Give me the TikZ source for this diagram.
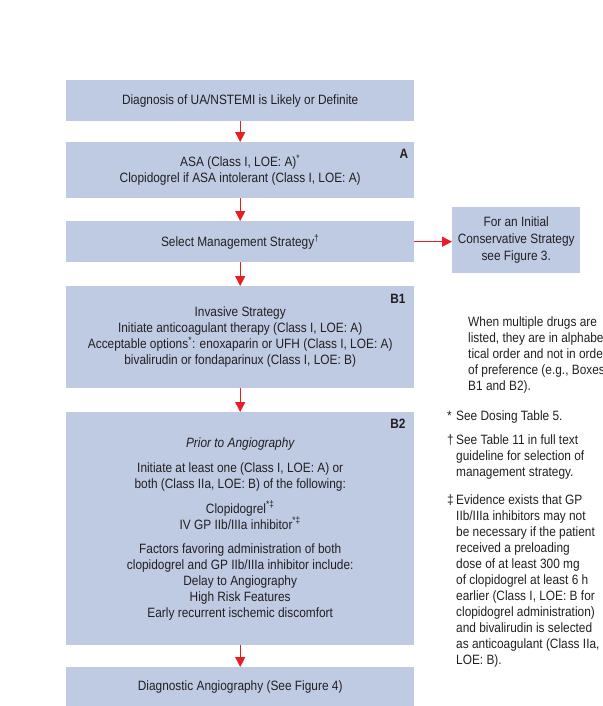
\documentclass[tikz,border=0pt]{standalone}
\usepackage{fontspec}
\setmainfont{Liberation Sans}[FakeStretch=0.88]
\usetikzlibrary{arrows.meta}
\definecolor{boxfill}{RGB}{191,203,227}
\definecolor{arrowred}{RGB}{236,28,36}
\definecolor{ink}{RGB}{35,31,32}

\begin{document}
\begin{tikzpicture}[x=1pt,y=-1pt,
  box/.style={fill=boxfill, draw=none, minimum width=348pt, anchor=north west,
    inner sep=0pt, align=center, text=ink, font=\fontsize{13.5}{16}\selectfont},
  flow/.style={draw=arrowred, line width=0.9pt,
    -{Triangle[length=10pt,width=10pt,fill=arrowred]}},
  tag/.style={text=ink, font=\fontsize{13.5}{16}\selectfont\bfseries, inner sep=0pt},
  note/.style={text=ink, anchor=base west, align=left, inner sep=0pt,
    font=\fontsize{13.5}{16}\selectfont}
]
\useasboundingbox (0,0) rectangle (602,706);

% flow boxes
\node[box, minimum height=41pt] (diag) at (66,80)
  {Diagnosis of UA/NSTEMI is Likely or Definite};
\node[box, minimum height=56pt] (asa) at (66,142)
  {ASA (Class I, LOE: A)\textsuperscript{*}\\
   Clopidogrel if ASA intolerant (Class I, LOE: A)};
\node[box, minimum height=41pt] (select) at (66,221)
  {Select Management Strategy\textsuperscript{†}};
\node[box, minimum width=128pt, minimum height=66pt,
      font=\fontsize{13.5}{17}\selectfont] (cons) at (452,207)
  {For an Initial\\Conservative Strategy\\see Figure 3.};
\node[box, minimum height=102pt] (b1) at (66,286)
  {Invasive Strategy\\
   Initiate anticoagulant therapy (Class I, LOE: A)\\
   Acceptable options\textsuperscript{*}: enoxaparin or UFH (Class I, LOE: A)\\
   bivalirudin or fondaparinux (Class I, LOE: B)};
\node[box, minimum height=233pt] (b2) at (66,412)
  {\itshape Prior to Angiography\\[9pt]
   Initiate at least one (Class I, LOE: A) or\\
   both (Class IIa, LOE: B) of the following:\\[9pt]
   Clopidogrel\textsuperscript{*‡}\\
   IV GP IIb/IIIa inhibitor\textsuperscript{*‡}\\[8pt]
   Factors favoring administration of both\\
   clopidogrel and GP IIb/IIIa inhibitor include:\\
   Delay to Angiography\\
   High Risk Features\\
   Early recurrent ischemic discomfort};
\node[box, minimum height=39pt] (angio) at (66,667)
  {Diagnostic Angiography (See Figure 4)};

% box tags
\node[tag] (tagA) at (404,154) {A};
\node[tag] (tagB1) at (398,299) {B1};
\node[tag] (tagB2) at (398,424) {B2};

% connectors
\draw[flow] (diag.south) -- (asa.north);
\draw[flow] (asa.south) -- (select.north);
\draw[flow] (select.east) -- (select.east -| cons.west);
\draw[flow] (select.south) -- (b1.north);
\draw[flow] (b1.south) -- (b2.north);
\draw[flow] (b2.south) -- (angio.north);

% side notes (base anchor sits on the last line)
\node[note] (n0) at (468,390.5)
  {When multiple drugs are\\
   listed, they are in alphabe-\\
   tical order and not in order\\
   of preference (e.g., Boxes\\
   B1 and B2).};
\node[note] (n1) at (447,420.5)
  {\makebox[9pt][l]{*}See Dosing Table 5.};
\node[note] (n2) at (447,476.5)
  {\makebox[9pt][l]{†}See Table 11 in full text\\
   \hspace*{9pt}guideline for selection of\\
   \hspace*{9pt}management strategy.};
\node[note] (n3) at (447,664.5)
  {\makebox[9pt][l]{‡}Evidence exists that GP\\
   \hspace*{9pt}IIb/IIIa inhibitors may not\\
   \hspace*{9pt}be necessary if the patient\\
   \hspace*{9pt}received a preloading\\
   \hspace*{9pt}dose of at least 300 mg\\
   \hspace*{9pt}of clopidogrel at least 6 h\\
   \hspace*{9pt}earlier (Class I, LOE: B for\\
   \hspace*{9pt}clopidogrel administration)\\
   \hspace*{9pt}and bivalirudin is selected\\
   \hspace*{9pt}as anticoagulant (Class IIa,\\
   \hspace*{9pt}LOE: B).};
\end{tikzpicture}
\end{document}
